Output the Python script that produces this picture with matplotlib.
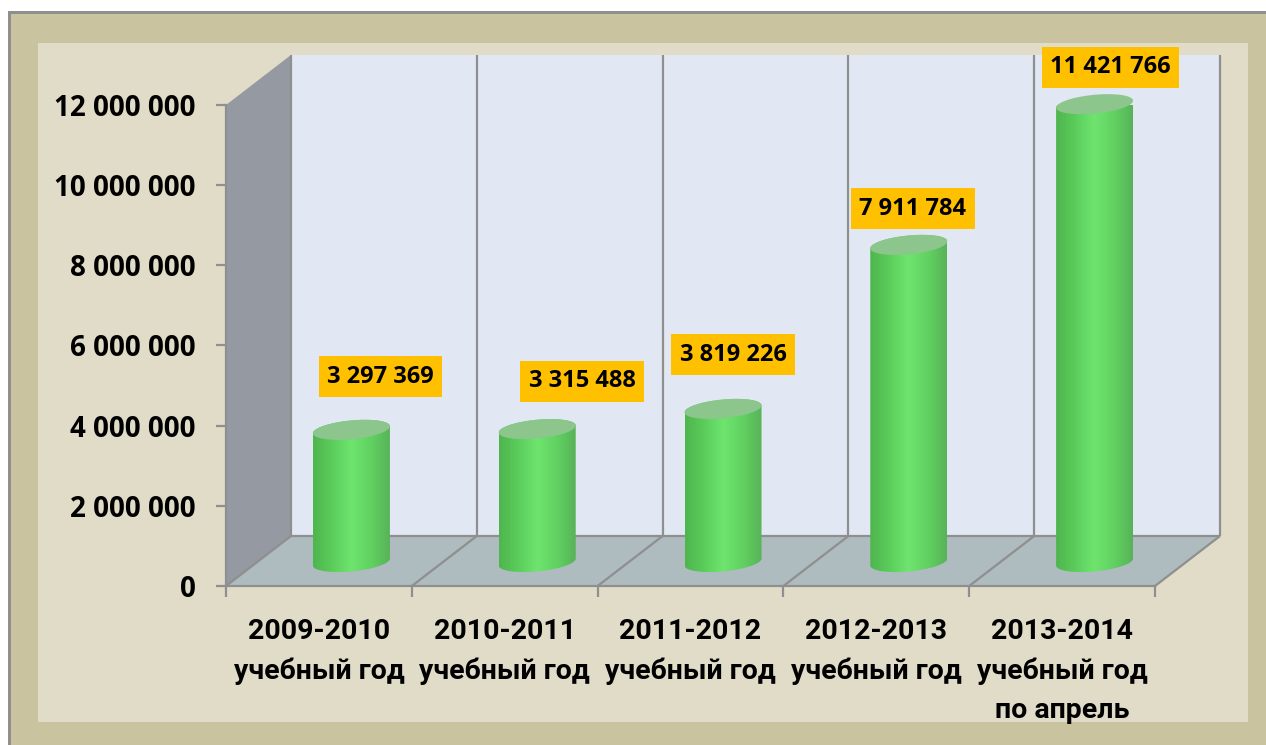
import numpy as np
import matplotlib
matplotlib.use("Agg")
import matplotlib.pyplot as plt
from matplotlib.colors import LinearSegmentedColormap
from matplotlib.patches import Polygon, Rectangle
from matplotlib.path import Path
from matplotlib.transforms import IdentityTransform

categories = ["2009-2010\nучебный год", "2010-2011\nучебный год", "2011-2012\nучебный год",
              "2012-2013\nучебный год", "2013-2014\nучебный год\nпо апрель"]
values = [3297369, 3315488, 3819226, 7911784, 11421766]
value_labels = ["3 297 369", "3 315 488", "3 819 226", "7 911 784", "11 421 766"]
y_ticks = [0, 2000000, 4000000, 6000000, 8000000, 10000000, 12000000]
y_labels = ["0", "2 000 000", "4 000 000", "6 000 000", "8 000 000", "10 000 000", "12 000 000"]

W, H = 1266, 745
DEPTH = (65, 50)
BAR_SHIFT = (32.5, 24)
BAR_RX, BAR_RY, BAR_TILT = 38.5, 9.4, 3.5
LABEL_SHIFT = [(29, 53), (45, 48), (10, 54), (4, 36), (16, 37)]
GREY = "#8f8f8f"

plt.rcParams["font.family"] = ["Open Sans", "DejaVu Sans"]
plt.rcParams["font.weight"] = "bold"

bar_cmap = LinearSegmentedColormap.from_list(
    "bar", [(0, "#4fb54f"), (0.2, "#58c858"), (0.5, "#6ee56e"), (0.78, "#60cf60"), (1, "#58b258")])


def fig_rect(fig, x0, y0, x1, y1, color):
    fig.add_artist(Rectangle((x0 / W, 1 - y1 / H), (x1 - x0) / W, (y1 - y0) / H,
                             transform=fig.transFigure, fc=color, ec="none", zorder=-5))


def ellipse(cx, cy, t):
    return np.column_stack([cx + BAR_RX * np.cos(t),
                            cy + BAR_RY * np.sin(t) + BAR_TILT * np.cos(t)])


fig = plt.figure(figsize=(W / 100, H / 100), dpi=100, facecolor="white")
fig_rect(fig, 8, 11, W, H, GREY)
fig_rect(fig, 11, 14, W, H, "#c9c39f")
fig_rect(fig, 38, 43, 1248, 722, "#e0dcc8")

ax = fig.add_axes([226 / W, 1 - 586 / H, 929 / W, 481 / H])
ax.patch.set_visible(False)
ax.set_xlim(0, len(values))
ax.set_ylim(0, 12000000)
ax.autoscale(False)

to_px = ax.transData.transform
front = lambda x, y: to_px((x, y))
back = lambda x, y: to_px((x, y)) + DEPTH
px = IdentityTransform()
n = len(values)


def poly(pts, color, z):
    ax.add_patch(Polygon(pts, closed=True, fc=color, ec="none", transform=px, zorder=z, clip_on=False))


def line(a, b, z=2):
    ax.plot([a[0], b[0]], [a[1], b[1]], color=GREY, lw=1.6, transform=px, zorder=z,
            clip_on=False, solid_capstyle="butt")


# walls and floor
poly([back(0, 0), back(n, 0), back(n, 12000000), back(0, 12000000)], "#e1e8f3", 1)
poly([front(0, 0), back(0, 0), back(0, 12000000), front(0, 12000000)], "#9599a2", 1)
poly([front(0, 0), front(n, 0), back(n, 0), back(0, 0)], "#aebbbf", 1)
for i in range(n + 1):
    line(back(i, 0), back(i, 12000000))
    line(front(i, 0), back(i, 0))
line(back(0, 0), back(n, 0))

# cylinders
t = np.linspace(0, 2 * np.pi, 80)
lower = np.linspace(np.pi, 2 * np.pi, 50)
upper = np.linspace(0, np.pi, 50)
grad = np.linspace(0, 1, 256).reshape(1, -1)
for i, v in enumerate(values):
    base = to_px((i + 0.5, 0)) + BAR_SHIFT
    top = to_px((i + 0.5, v)) + BAR_SHIFT
    outline = np.vstack([ellipse(base[0], base[1], lower), ellipse(top[0], top[1], upper)])
    im = ax.imshow(grad, cmap=bar_cmap, aspect="auto", transform=px, zorder=3,
                   extent=(base[0] - BAR_RX, base[0] + BAR_RX, base[1] - 15, top[1] + 15))
    im.set_clip_path(Path(np.vstack([outline, outline[:1]]), closed=True), transform=px)
    poly(ellipse(top[0], top[1], t), "#8cc68c", 4)
    ax.annotate(value_labels[i], xy=(i + 0.5, v),
                xytext=(BAR_SHIFT[0] + LABEL_SHIFT[i][0], BAR_SHIFT[1] + LABEL_SHIFT[i][1]),
                textcoords="offset pixels", ha="center", va="center", fontsize=17, color="black",
                zorder=5, annotation_clip=False,
                bbox=dict(boxstyle="square,pad=0.36", fc="#ffc000", ec="none"))

# axes
for s in ["top", "right"]:
    ax.spines[s].set_visible(False)
for s in ["left", "bottom"]:
    ax.spines[s].set_color(GREY)
    ax.spines[s].set_linewidth(1.6)
    ax.spines[s].set_zorder(2)
ax.set_yticks(y_ticks, y_labels)
ax.set_xticks(range(n + 1), [""] * (n + 1))
ax.set_xticks(np.arange(n) + 0.5, categories, minor=True)
ax.tick_params(axis="y", length=7.5, width=1.6, color=GREY, pad=14.5, labelsize=20, labelcolor="black")
ax.tick_params(axis="x", which="major", length=8, width=1.6, color=GREY)
ax.tick_params(axis="x", which="minor", length=0, pad=23, labelsize=20.5, labelcolor="black")
for lab in ax.get_xticklabels(minor=True):
    lab.set_family(["Roboto", "DejaVu Sans"])
    lab.set_linespacing(1.58)
    lab.set_ha("center")

fig.savefig("out.png", dpi=100)
